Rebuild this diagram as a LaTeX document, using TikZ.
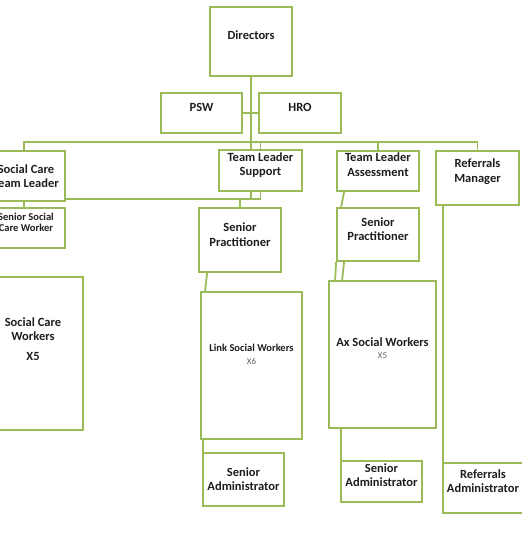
\documentclass[tikz,border=0pt]{standalone}
\usepackage{fontspec}
\setmainfont{Carlito}
\usetikzlibrary{calc}
\definecolor{boxgreen}{HTML}{9BBB59}
\definecolor{txt}{HTML}{1E1E1E}
\definecolor{sub}{HTML}{606060}
\tikzset{
  orgbox/.style={draw=boxgreen, line width=1.8pt, fill=white, inner sep=0pt, rectangle},
  conn/.style={draw=boxgreen, line width=1.8pt},
  lbl/.style={text=txt, font=\bfseries\fontsize{12.5}{14.5}\selectfont, align=center, inner sep=0pt},
  smalllbl/.style={text=txt, font=\bfseries\fontsize{10.5}{11.5}\selectfont, align=center, inner sep=0pt},
  sublbl/.style={text=sub, font=\fontsize{9}{10}\selectfont, align=center, inner sep=0pt},
}
\begin{document}
\begin{tikzpicture}[x=1pt,y=-1pt]
\useasboundingbox (0,0) rectangle (521,534);
\coordinate (bar) at (0,142);
\coordinate (low) at (0,199);
\node[orgbox, minimum width=82pt, minimum height=69pt] (dir) at (251,41.5) {};
\node[orgbox, minimum width=81pt, minimum height=40pt] (psw) at (201.5,113) {};
\node[orgbox, minimum width=82pt, minimum height=40pt] (hro) at (300,113) {};
\node[orgbox, minimum width=83pt, minimum height=41pt] (tls) at (260.5,170.5) {};
\node[orgbox, minimum width=82pt, minimum height=40pt] (tla) at (378,171) {};
\node[orgbox, minimum width=83pt, minimum height=54pt] (rm) at (477.5,178) {};
\node[orgbox, minimum width=82pt, minimum height=50pt] (sctl) at (24,176) {};
\node[orgbox, minimum width=82pt, minimum height=40pt] (sscw) at (24,228) {};
\node[orgbox, minimum width=100pt, minimum height=153pt] (scw) at (33,353.5) {};
\node[orgbox, minimum width=82pt, minimum height=64pt] (sps) at (240,240) {};
\node[orgbox, minimum width=101pt, minimum height=147pt] (lsw) at (251.5,365.5) {};
\node[orgbox, minimum width=81pt, minimum height=53pt] (sas) at (243.5,479.5) {};
\node[orgbox, minimum width=82pt, minimum height=53pt] (spa) at (378,234.5) {};
\node[orgbox, minimum width=107pt, minimum height=147pt] (ax) at (382.5,354.5) {};
\node[orgbox, minimum width=81pt, minimum height=41pt] (saa) at (381.5,481.5) {};
\node[orgbox, minimum width=82pt, minimum height=50pt] (ra) at (484,488) {};
% connectors
\draw[conn] (dir.south) -- (dir.south |- tls.north);
\draw[conn] (psw.east) -- (hro.west);
\draw[conn] (sctl.north) |- (bar -| rm.north) -- (rm.north);
\draw[conn] (tls.north) -- (bar -| tls.north);
\draw[conn] (tla.north) -- (bar -| tla.north);
\draw[conn] (tls.south) -- (tls.south |- low) -- (low -| sctl.east);
\draw[conn] ($(tls.south)+(-9.5,0)$) -- ($(tls.south |- low)+(-9.5,0)$);
\draw[conn] (sps.north) -- (sps.north |- low);
\draw[conn] (sctl.south) -- (sscw.north);
\draw[conn] ($(sps.south west)+(9,0)$) -- ($(lsw.north west)+(5,0)$);
\draw[conn] ($(lsw.south west)+(3,0)$) -- ($(sas.north west)+(1,0)$);
\draw[conn] ($(tla.south west)+(8,0)$) -- ($(spa.north west)+(5,0)$);
\draw[conn] (spa.south west) -- ($(ax.north west)+(7,0)$);
\draw[conn] ($(spa.south west)+(8,0)$) -- ($(ax.north west)+(14,0)$);
\draw[conn] ($(ax.south west)+(13,0)$) -- ($(saa.north west)+(1,0)$);
\draw[conn] ($(rm.south west)+(8,0)$) -- ($(ra.north west)+(1,0)$);
% labels
\node[lbl] (tdir) at (251,35) {Directors};
\node[lbl] (tpsw) at (201.5,107) {PSW};
\node[lbl] (thro) at (300,107) {HRO};
\node[lbl] (ttls) at (260.5,165) {Team Leader\\Support};
\node[lbl] (ttla) at (378,164.5) {Team Leader\\Assessment};
\node[lbl] (trm) at (477.5,171.5) {Referrals\\Manager};
\node[lbl] (tsctl) at (26,176) {Social Care\\Team Leader};
\node[smalllbl] (tsscw) at (26,222.5) {Senior Social\\Care Worker};
\node[lbl] (tscw) at (33,329) {Social Care\\Workers};
\node[lbl] (tscw5) at (33,356) {X5};
\node[lbl] (tsps) at (240,234.5) {Senior\\Practitioner};
\node[smalllbl] (tlsw) at (251.5,348) {Link Social Workers};
\node[sublbl] (tlsw6) at (251.5,361) {X6};
\node[lbl] (tsas) at (243.5,479) {Senior\\Administrator};
\node[lbl] (tspa) at (378,229) {Senior\\Practitioner};
\node[lbl] (tax) at (382.5,342) {Ax Social Workers};
\node[sublbl] (tax5) at (382.5,356) {X5};
\node[lbl] (tsaa) at (381.5,475) {Senior\\Administrator};
\node[lbl] (tra) at (483,481) {Referrals\\Administrator};
\end{tikzpicture}
\end{document}
